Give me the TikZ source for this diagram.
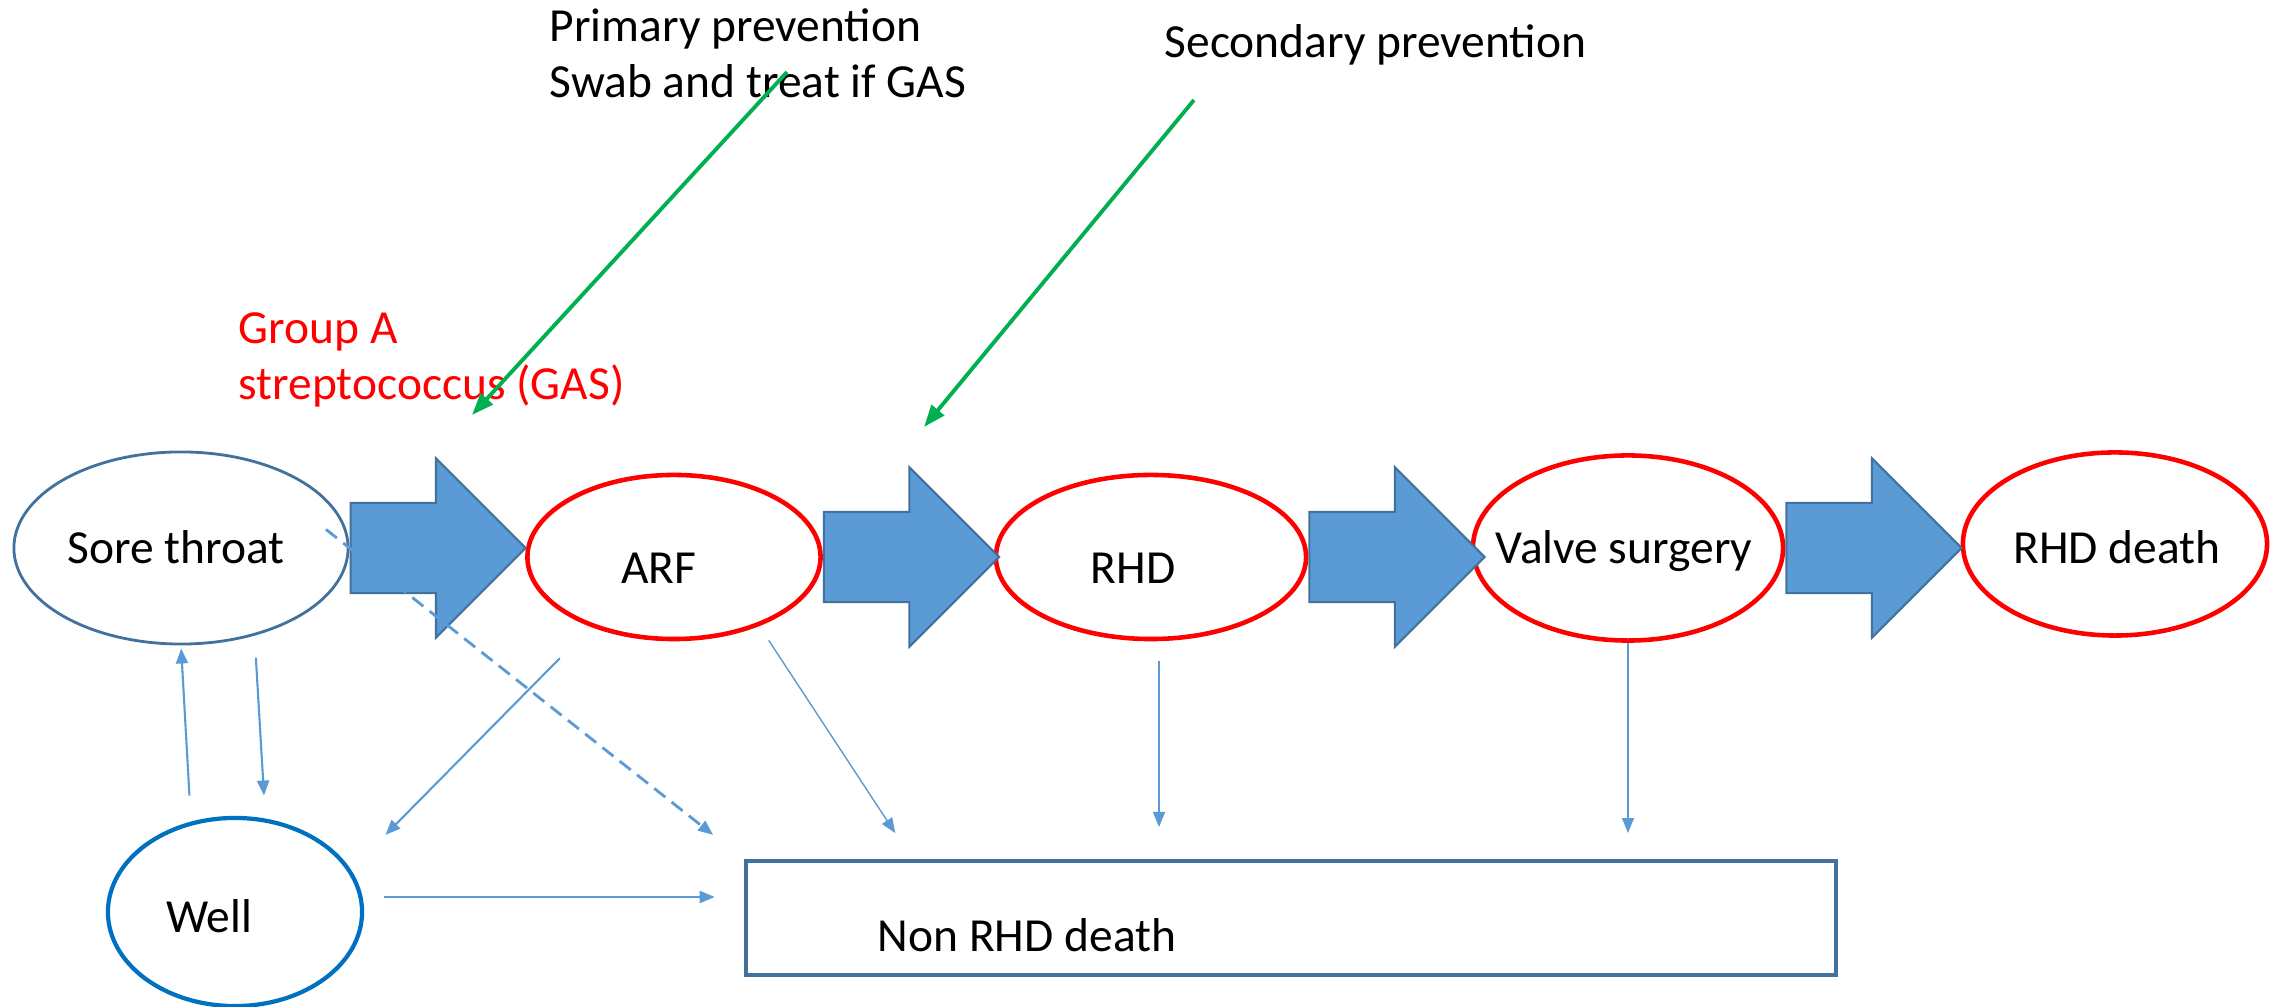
\documentclass[tikz,border=0pt]{standalone}
\usepackage{fontspec}
\setmainfont{Carlito}
\usepackage{xcolor}
\usetikzlibrary{positioning, arrows.meta, shapes.geometric, shapes.arrows, calc}

\definecolor{flowblue}{HTML}{5B9BD5}
\definecolor{edgeblue}{HTML}{41719C}
\definecolor{wellblue}{HTML}{0070C0}
\definecolor{prevgreen}{HTML}{00B050}

\begin{document}
\begin{tikzpicture}[x=0.01cm, y=-0.01cm, >={Triangle[length=0.15cm,width=0.12cm]},
        font=\fontsize{13.5}{16.2}\selectfont,
        state/.style={ellipse, draw=red, line width=1.3pt, inner sep=0pt},
        move/.style={single arrow, draw=edgeblue, fill=flowblue, line width=0.6pt,
            minimum height=1.75cm, inner xsep=0pt, inner ysep=0.44cm,
            single arrow head extend=0.445cm, anchor=tail},
        link/.style={->, draw=flowblue, line width=0.6pt},
        prevent/.style={-{Triangle[length=0.22cm,width=0.16cm]}, draw=prevgreen, line width=1.1pt}]
        \useasboundingbox (0,0) rectangle (2271,1007);

        % Nodes
        \node (sore) [state, draw=edgeblue, line width=0.8pt, minimum width=3.34cm, minimum height=1.92cm,
            label={[shift={(-5,-1)}]center:Sore throat}] at (181,548) {};
        \node (arf) [state, minimum width=2.93cm, minimum height=1.64cm,
            label={[shift={(-15,11)}]center:ARF}] at (674,557) {};
        \node (rhd) [state, minimum width=3.10cm, minimum height=1.64cm,
            label={[shift={(-18,11)}]center:RHD}] at (1151,557) {};
        \node (valve) [state, minimum width=3.10cm, minimum height=1.85cm,
            label={[shift={(-4,3)}]center:Valve surgery}] at (1628,548) {};
        \node (rhddeath) [state, minimum width=3.04cm, minimum height=1.83cm,
            label={[shift={(2,3)}]center:RHD death}] at (2115,544) {};
        \node (well) [state, draw=wellblue, line width=1.2pt, minimum width=2.54cm, minimum height=1.88cm,
            label={[shift={(-26,4)}]center:Well}] at (235,912) {};
        \node (nonrhd) [draw=edgeblue, line width=1.1pt, minimum width=10.9cm, minimum height=1.14cm, inner sep=0pt,
            label={[shift={(-264,17)}]center:Non RHD death}] at (1291,918) {};

        % base of a two-line node is its last line
        \node (primtxt) [anchor=base west, align=left, inner sep=0pt] at (549,98) {Primary prevention\\Swab and treat if GAS};
        \node (sectxt) [anchor=base west, inner sep=0pt] at (1164,58) {Secondary prevention};
        \node (gastxt) [anchor=base west, align=left, inner sep=0pt, text=red] at (238,400) {Group A\\streptococcus (GAS)};

        % Block arrows
        \foreach \a in {sore, arf, rhd, valve}
            \node (m-\a) [move] at (\a.east) {};

        % Arrows
        \draw[link, shorten <=0.26cm, shorten >=0.03cm] (well.116) -- (sore.south);
        \draw[link, shorten <=0.22cm, shorten >=0.23cm] (sore.-50) -- (well.72);
        \draw[link, shorten <=0.44cm, shorten >=0.49cm] (arf.220) -- (well.20);
        \draw[link, line width=0.8pt, dash pattern=on 0.14cm off 0.08cm, shorten <=-0.3cm, shorten >=0.39cm] (sore.east) -- (nonrhd.north west);
        \draw[link, line width=0.4pt, shorten <=0.17cm, shorten >=0.31cm] (arf.-39) -- ($(nonrhd.north west)!0.154!(nonrhd.north east)$);
        \draw[link, line width=0.4pt, shorten <=0.2cm, shorten >=0.32cm] ($(rhd.south)+(8,0)$) -- ($(rhd.south |- nonrhd.north)+(8,0)$);
        \draw[link, line width=0.4pt, shorten >=0.26cm] (valve.south) -- (valve.south |- nonrhd.north);
        \draw[link, shorten <=0.2cm, shorten >=0.29cm] ($(well.east)+(0,-15)$) -- ($(well.east -| nonrhd.west)+(0,-15)$);

        \coordinate (prim-from) at (787,72);
        \coordinate (prim-to) at (472,415);
        \coordinate (sec-from) at (1194,100);
        \coordinate (sec-to) at (924,427);
        \draw[prevent] (prim-from) -- (prim-to);
        \draw[prevent] (sec-from) -- (sec-to);

    \end{tikzpicture}
\end{document}
